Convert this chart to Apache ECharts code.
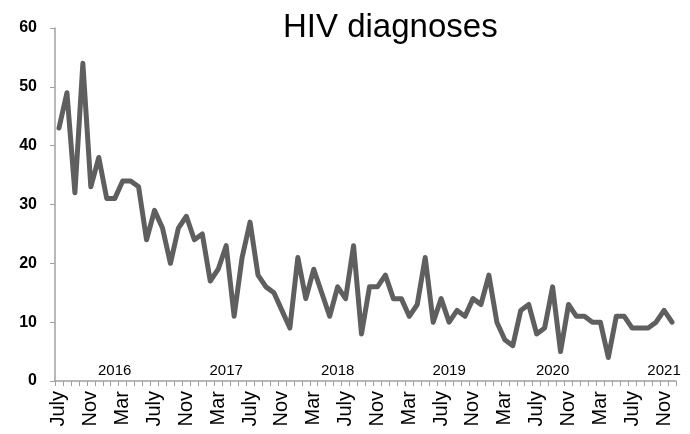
<!DOCTYPE html>
<html>
<head>
<meta charset="utf-8">
<script src="https://cdn.jsdelivr.net/npm/echarts@6/dist/echarts.min.js"></script>
<style>html,body{margin:0;padding:0;background:#fff}#c{width:690px;height:434px}</style>
</head>
<body>
<div id="c"></div>
<script>
var categories = [
 'July 2015','Aug 2015','Sep 2015','Oct 2015','Nov 2015','Dec 2015',
 'Jan 2016','Feb 2016','Mar 2016','Apr 2016','May 2016','June 2016','July 2016','Aug 2016','Sep 2016','Oct 2016','Nov 2016','Dec 2016',
 'Jan 2017','Feb 2017','Mar 2017','Apr 2017','May 2017','June 2017','July 2017','Aug 2017','Sep 2017','Oct 2017','Nov 2017','Dec 2017',
 'Jan 2018','Feb 2018','Mar 2018','Apr 2018','May 2018','June 2018','July 2018','Aug 2018','Sep 2018','Oct 2018','Nov 2018','Dec 2018',
 'Jan 2019','Feb 2019','Mar 2019','Apr 2019','May 2019','June 2019','July 2019','Aug 2019','Sep 2019','Oct 2019','Nov 2019','Dec 2019',
 'Jan 2020','Feb 2020','Mar 2020','Apr 2020','May 2020','June 2020','July 2020','Aug 2020','Sep 2020','Oct 2020','Nov 2020','Dec 2020',
 'Jan 2021','Feb 2021','Mar 2021','Apr 2021','May 2021','June 2021','July 2021','Aug 2021','Sep 2021','Oct 2021','Nov 2021','Dec 2021'
];
var diagnoses = [
 43,49,32,54,33,38,
 31,31,34,34,33,24,29,26,20,26,28,24,
 25,17,19,23,11,21,27,18,16,15,12,9,
 21,14,19,15,11,16,14,23,8,16,16,18,
 14,14,11,13,21,10,14,10,12,11,14,13,
 18,10,7,6,12,13,8,9,16,5,13,11,
 11,10,10,4,11,11,9,9,9,10,12,10
];
var yearLabelAt = ['Feb 2016','Apr 2017','June 2018','Aug 2019','Sep 2020','Nov 2021'];
var yearLabels = ['2016','2017','2018','2019','2020','2021'];
var yTicks = [0,10,20,30,40,50,60];

var chart = echarts.init(document.getElementById('c'));
chart.setOption({
  animation: false,
  backgroundColor: '#ffffff',
  title: {
    text: 'HIV diagnoses',
    left: 278, top: 6,
    textStyle: {fontFamily: 'Liberation Sans', fontWeight: 'normal', fontSize: 33, color: '#000'}
  },
  grid: {left: 55, right: 14, top: 28, bottom: 53},
  xAxis: [{
    type: 'category',
    data: categories,
    boundaryGap: true,
    axisLine: {lineStyle: {color: '#a0a0a0', width: 1.5}},
    axisTick: {show: true, interval: 0, length: 5, lineStyle: {color: '#a0a0a0'}},
    axisLabel: {
      interval: 3, rotate: 90, margin: 10,
      fontFamily: 'Liberation Sans', fontSize: 20, color: '#000',
      formatter: function (v) { return v.split(' ')[0]; }
    }
  }, {
    type: 'category',
    data: categories,
    position: 'bottom',
    boundaryGap: true,
    axisLine: {show: false},
    axisTick: {show: false},
    axisLabel: {
      inside: true, margin: 3,
      fontFamily: 'Liberation Sans', fontSize: 15, color: '#000',
      interval: function (i, v) { return yearLabelAt.indexOf(v) >= 0; },
      formatter: function (v) { var k = yearLabelAt.indexOf(v); return k >= 0 ? yearLabels[k] : ''; }
    }
  }],
  yAxis: {
    type: 'value',
    min: yTicks[0], max: yTicks[yTicks.length - 1], interval: 10,
    splitLine: {show: false},
    axisLine: {show: true, lineStyle: {color: '#a0a0a0', width: 1.5}},
    axisTick: {show: true, length: 5, lineStyle: {color: '#a0a0a0'}},
    axisLabel: {margin: 18, fontFamily: 'Liberation Sans', fontWeight: 'bold', fontSize: 16, color: '#000'}
  },
  series: [{
    type: 'line',
    data: diagnoses,
    showSymbol: false,
    symbol: 'none',
    lineStyle: {color: '#5f5f5f', width: 5, join: 'round', cap: 'round'}
  }]
});
</script>
</body>
</html>
